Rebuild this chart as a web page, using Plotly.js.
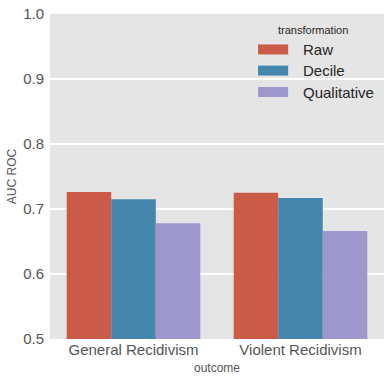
<!DOCTYPE html>
<html><head><meta charset="utf-8">
<script src="https://cdn.plot.ly/plotly-3.0.1.min.js"></script>
<style>html,body{margin:0;padding:0;background:#fff}#chart{width:391px;height:381px}</style>
</head><body><div id="chart"></div>
<script>
const categories = ["General Recidivism", "Violent Recidivism"];
const seriesNames = ["Raw", "Decile", "Qualitative"];
const rawValues = [0.726, 0.725];
const decileValues = [0.715, 0.717];
const qualitativeValues = [0.678, 0.666];
const yTicks = [0.5, 0.6, 0.7, 0.8, 0.9, 1.0];
const yTickLabels = ["0.5", "0.6", "0.7", "0.8", "0.9", "1.0"];
const colors = ["#CC5A49", "#4586AC", "#9E97CC"];
const allValues = [rawValues, decileValues, qualitativeValues];

const font = "Liberation Sans, Arial, sans-serif";
const traces = seriesNames.map((n, i) => ({
  type: "bar", name: n, x: categories, y: allValues[i],
  marker: {color: colors[i], line: {width: 0}},
  showlegend: false, hoverinfo: "none"
}));

// manual legend (wide patches like the reference)
const shapes = [], annotations = [];
const legX0 = 0.623, legX1 = 0.713, legTextX = 0.751;
const legY = [0.891, 0.826, 0.760];
seriesNames.forEach((n, i) => {
  shapes.push({type: "rect", xref: "paper", yref: "paper", x0: legX0, x1: legX1,
    y0: legY[i] - 0.0154, y1: legY[i] + 0.0154, fillcolor: colors[i], line: {width: 0}});
  annotations.push({xref: "paper", yref: "paper", x: legTextX, y: legY[i], xanchor: "left", yanchor: "middle",
    text: n, showarrow: false, font: {family: font, size: 15, color: "#262626"}});
});
annotations.push({xref: "paper", yref: "paper", x: 0.787, y: 0.951, xanchor: "center", yanchor: "middle",
  text: "transformation", showarrow: false, font: {family: font, size: 11, color: "#262626"}});

const layout = {
  width: 391, height: 381,
  margin: {l: 50, r: 7, t: 14, b: 42},
  paper_bgcolor: "#ffffff", plot_bgcolor: "#E5E5E5",
  bargap: 0.2, bargroupgap: 0, barmode: "group",
  font: {family: font, color: "#555555"},
  xaxis: {type: "category", showgrid: false, zeroline: false, ticks: "", showline: false,
    tickfont: {size: 15, color: "#555555"},
    title: {text: "outcome", font: {size: 12, color: "#555555"}, standoff: 6}},
  yaxis: {range: [0.5, 1.0], tickvals: yTicks, ticktext: yTickLabels, showgrid: true,
    gridcolor: "#ffffff", gridwidth: 1.5, zeroline: false, ticks: "", showline: false,
    ticklabelstandoff: 5,
    tickfont: {size: 15, color: "#555555"},
    title: {text: "AUC ROC", font: {size: 12, color: "#555555"}, standoff: 3}},
  shapes: shapes, annotations: annotations, showlegend: false
};
Plotly.newPlot("chart", traces, layout, {staticPlot: true, displayModeBar: false});
</script></body></html>
